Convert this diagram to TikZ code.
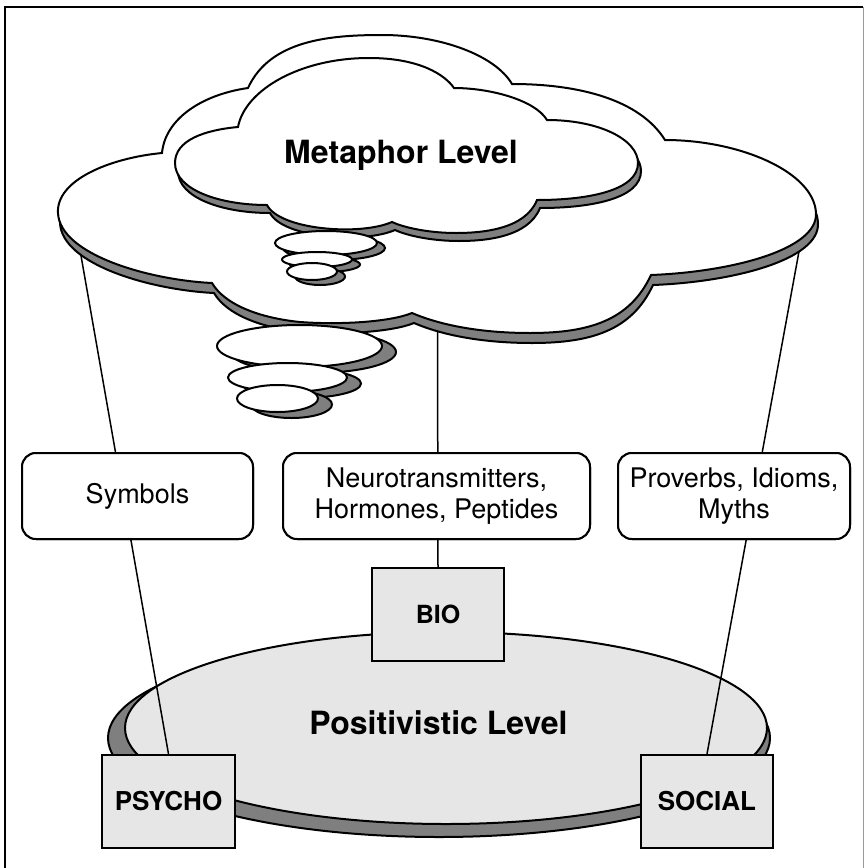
\documentclass[tikz,border=0pt]{standalone}
\usepackage{fontspec}
\setmainfont{TeX Gyre Heros}
\definecolor{shadowgray}{HTML}{7F7F7F}
\definecolor{lightfill}{HTML}{E6E6E6}
\tikzset{
  outline/.style={draw=black, line width=2pt},
  shadowfill/.style={outline, fill=shadowgray},
  whitefill/.style={outline, fill=white},
  roundbox/.style={outline, fill=white, rounded corners=14pt, inner sep=0pt, align=center,
    font=\fontsize{27}{31}\selectfont, minimum height=86pt},
  squarebox/.style={outline, fill=lightfill, inner sep=0pt,
    font=\bfseries\fontsize{25}{30}\selectfont, minimum width=132pt, minimum height=93pt},
  connector/.style={draw=black, line width=1.5pt},
  leveltext/.style={font=\bfseries\fontsize{32}{36}\selectfont, anchor=base, inner sep=0pt},
}
\def\OuterCloudPath{(212,283) .. controls (150,280) and (60,255) .. (58,213)
  .. controls (56,180) and (110,158) .. (162,153)
  .. controls (165,120) and (200,95) .. (248,88)
  .. controls (270,40) and (330,35) .. (382,35)
  .. controls (440,35) and (495,55) .. (512,84)
  .. controls (580,84) and (640,100) .. (665,140)
  .. controls (740,140) and (814,172) .. (816,213)
  .. controls (818,250) and (730,272) .. (651,275)
  .. controls (630,320) and (590,333) .. (530,333)
  .. controls (480,333) and (440,325) .. (412,313)
  .. controls (390,322) and (340,325) .. (300,322)
  .. controls (260,318) and (225,305) .. (212,283) -- cycle}
\def\InnerCloudPath{(267,205) .. controls (220,205) and (175,190) .. (175,163)
  .. controls (175,140) and (205,130) .. (238,127)
  .. controls (245,90) and (300,58) .. (369,58)
  .. controls (420,58) and (445,75) .. (454,88)
  .. controls (490,88) and (535,100) .. (547,120)
  .. controls (600,120) and (638,140) .. (638,163)
  .. controls (638,190) and (590,200) .. (537,200)
  .. controls (525,230) and (480,233) .. (456,233)
  .. controls (430,233) and (405,228) .. (392,222)
  .. controls (360,236) and (280,230) .. (267,205) -- cycle}
\begin{document}
\begin{tikzpicture}[x=1pt,y=-1pt]
\useasboundingbox (0,0) rectangle (867,868);
% frame
\draw[line width=2.5pt] (5,868) -- (5,7) -- (863,7);
\draw[line width=1pt, draw=black!40] (863,7) -- (863,868);

% positivistic level ellipse
\draw[shadowfill] (439,738) ellipse [x radius=331, y radius=99];
\draw[outline, fill=lightfill] (446,728) ellipse [x radius=321, y radius=96];

% nodes
\node[roundbox, minimum width=231pt] (sym) at (137.5,496) {Symbols};
\node[roundbox, minimum width=307pt] (neuro) at (436.5,496) {Neurotransmitters,\\Hormones, Peptides};
\node[roundbox, minimum width=232pt] (prov) at (734,496) {Proverbs, Idioms,\\Myths};
\node[squarebox] (bio) at (438,614.5) {BIO};
\node[squarebox, font=\bfseries\fontsize{26}{30}\selectfont, minimum width=133pt] (psycho) at (168.5,801.5) {PSYCHO};
\node[squarebox, font=\bfseries\fontsize{26}{30}\selectfont] (social) at (707,801.5) {SOCIAL};

% connector start points inside the cloud
\coordinate (cl) at (80,250);
\coordinate (cc) at (437.5,320);
\coordinate (cr) at (802,235);

% connectors
\draw[connector] (cl) -- (psycho.north);
\draw[connector] (cc) -- (bio.north);
\draw[connector] (cr) -- (social.north);

% clouds
\draw[shadowfill, shift={(2,10)}] \OuterCloudPath;
\draw[whitefill] \OuterCloudPath;
\draw[shadowfill, shift={(3,8)}] \InnerCloudPath;
\draw[whitefill] \InnerCloudPath;

% thought bubbles, upper set
\begin{scope}[shift={(8,5)}]
  \draw[shadowfill] (326,243) ellipse [x radius=51, y radius=12];
  \draw[shadowfill] (317,259.5) ellipse [x radius=35, y radius=7.5];
  \draw[shadowfill] (312,271.5) ellipse [x radius=25, y radius=8.5];
\end{scope}
\draw[whitefill] (326,243) ellipse [x radius=51, y radius=12];
\draw[whitefill] (317,259.5) ellipse [x radius=35, y radius=7.5];
\draw[whitefill] (312,271.5) ellipse [x radius=25, y radius=8.5];

% thought bubbles, lower set
\begin{scope}[shift={(14,6)}]
  \draw[shadowfill] (299.5,346) ellipse [x radius=82.5, y radius=21];
  \draw[shadowfill] (287.5,377.5) ellipse [x radius=59.5, y radius=14.5];
  \draw[shadowfill] (277.5,398.5) ellipse [x radius=40.5, y radius=13.5];
\end{scope}
\draw[whitefill] (299.5,346) ellipse [x radius=82.5, y radius=21];
\draw[whitefill] (287.5,377.5) ellipse [x radius=59.5, y radius=14.5];
\draw[whitefill] (277.5,398.5) ellipse [x radius=40.5, y radius=13.5];

% level labels
\node[leveltext] (meta) at (401,163) {Metaphor Level};
\node[leveltext] (posi) at (438.5,734) {Positivistic Level};

% redraw boxes above connectors
\node[roundbox, minimum width=231pt] at (sym) {Symbols};
\node[roundbox, minimum width=307pt] at (neuro) {Neurotransmitters,\\Hormones, Peptides};
\node[roundbox, minimum width=232pt] at (prov) {Proverbs, Idioms,\\Myths};
\node[squarebox] at (bio) {BIO};
\node[squarebox, font=\bfseries\fontsize{26}{30}\selectfont, minimum width=133pt] at (psycho) {PSYCHO};
\node[squarebox, font=\bfseries\fontsize{26}{30}\selectfont] at (social) {SOCIAL};
\end{tikzpicture}
\end{document}
